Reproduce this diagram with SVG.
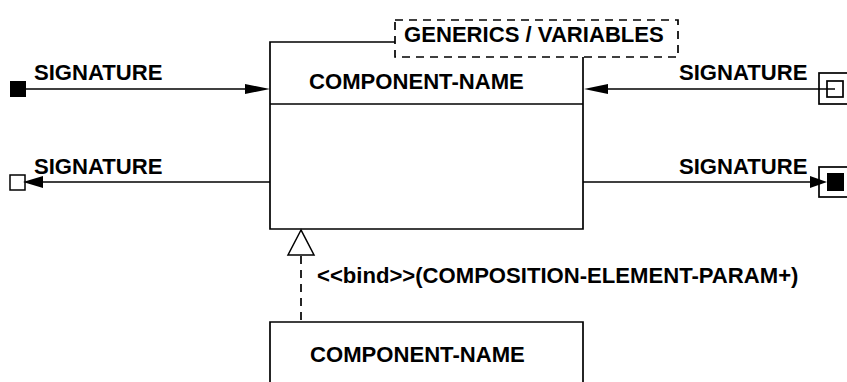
<svg xmlns="http://www.w3.org/2000/svg" width="847" height="382" viewBox="0 0 847 382">
<style>
.t{font-family:"Liberation Sans",Arial,sans-serif;font-weight:bold;font-size:22.1px;fill:#000}
.s{fill:none;stroke:#000;stroke-width:1.7}
.d{fill:none;stroke:#000;stroke-width:1.7;stroke-dasharray:8,6}
</style>
<rect width="847" height="382" fill="#fff"/>
<g id="component">
<path class="s" d="M395,42 H270 V229 H583 V57"/>
<line class="s" x1="270" y1="104" x2="583" y2="104"/>
<text class="t" x="309" y="89">COMPONENT-NAME</text>
</g>
<g id="generics">
<rect class="d" x="395" y="20" width="283" height="37"/>
<text class="t" x="404" y="42">GENERICS / VARIABLES</text>
</g>
<g id="component2">
<path class="s" d="M270,390 V322 H583 V390"/>
<text class="t" x="310" y="362">COMPONENT-NAME</text>
</g>
<g id="port-in-left">
<rect x="10" y="81" width="16" height="16" fill="#000"/>
</g>
<g id="port-out-left">
<rect x="10" y="175" width="15" height="15" fill="#fff" stroke="#000" stroke-width="1.5"/>
</g>
<g id="port-in-right">
<rect class="s" x="819" y="73" width="40" height="31"/>
<rect class="s" x="827" y="81" width="16" height="16"/>
</g>
<g id="port-out-right">
<rect class="s" x="819" y="167" width="40" height="30"/>
<rect x="827" y="173" width="17" height="18" fill="#000"/>
</g>
<g id="connectors">
<line class="s" x1="26" y1="89" x2="248" y2="89"/>
<polygon points="270,89 245,84 245,94" fill="#000"/>
<text class="t" x="34" y="80">SIGNATURE</text>
<line class="s" x1="40" y1="182" x2="270" y2="182"/>
<polygon points="23,182 43,176 43,188" fill="#000"/>
<text class="t" x="34" y="174">SIGNATURE</text>
<line class="s" x1="605" y1="89" x2="835" y2="89"/>
<polygon points="584,89 608,84 608,94" fill="#000"/>
<text class="t" x="679" y="80">SIGNATURE</text>
<line class="s" x1="583" y1="182" x2="812" y2="182"/>
<polygon points="827,182 810,176 810,188" fill="#000"/>
<text class="t" x="679" y="174">SIGNATURE</text>
<line class="d" x1="301" y1="256" x2="301" y2="322"/>
<polygon points="301,230 288,255 314,255" fill="#fff" stroke="#000" stroke-width="1.5"/>
<text class="t" x="317" y="283">&lt;&lt;bind&gt;&gt;(COMPOSITION-ELEMENT-PARAM+)</text>
</g>
</svg>
